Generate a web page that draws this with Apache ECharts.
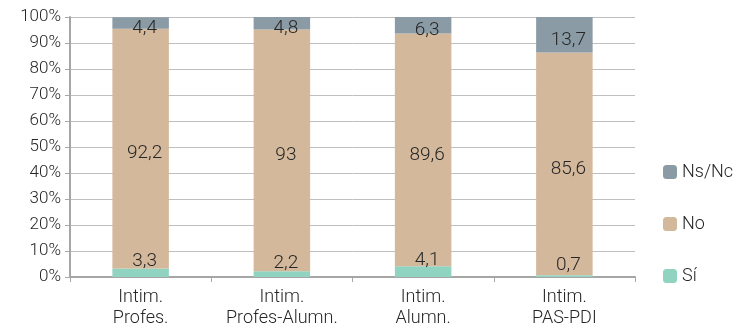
<!DOCTYPE html>
<html>
<head>
<meta charset="utf-8">
<script src="https://cdn.jsdelivr.net/npm/echarts@6/dist/echarts.min.js"></script>
<style>
  html, body { margin: 0; padding: 0; background: #fff; }
  #chart { width: 739px; height: 332px; }
</style>
</head>
<body>
<div id="chart"></div>
<script>
// datos
const categorias = ["Intim.\nProfes.", "Intim.\nProfes-Alumn.", "Intim.\nAlumn.", "Intim.\nPAS-PDI"];
const si = [3.3, 2.2, 4.1, 0.7];
const no = [92.2, 93, 89.6, 85.6];
const nsnc = [4.4, 4.8, 6.3, 13.7];
const ticksY = [0, 10, 20, 30, 40, 50, 60, 70, 80, 90, 100];

const fuente = "Roboto";
const coma = (v) => String(v).replace(".", ",");

const myChart = echarts.init(document.getElementById("chart"));

function etiqueta(offset) {
  return {
    show: true,
    position: "inside",
    offset: offset,
    color: "#262626",
    fontFamily: fuente,
    fontWeight: 300,
    fontSize: 19,
    formatter: (p) => coma(p.value),
  };
}

myChart.setOption({
  animation: false,
  textStyle: { fontFamily: fuente },
  grid: { left: 70, right: 104, top: 17, bottom: 55 },
  legend: {
    orient: "vertical",
    left: 658,
    top: 158,
    itemWidth: 14,
    itemHeight: 14,
    itemGap: 34,
    data: ["Ns/Nc", "No", "Sí"],
    textStyle: { fontSize: 18, fontWeight: 300, color: "#262626", fontFamily: fuente },
  },
  xAxis: {
    type: "category",
    data: categorias,
    axisLine: { lineStyle: { color: "#a6a6a6", width: 2 } },
    axisTick: { show: true, length: 5, lineStyle: { color: "#a6a6a6" } },
    axisLabel: {
      interval: 0,
      color: "#262626",
      fontSize: 18,
      fontWeight: 300,
      lineHeight: 21,
      margin: 10,
      fontFamily: fuente,
    },
  },
  yAxis: {
    type: "value",
    min: 0,
    max: 100,
    interval: 10,
    axisLine: { show: true, lineStyle: { color: "#a6a6a6", width: 2 } },
    axisTick: { show: true, length: 5, lineStyle: { color: "#a6a6a6" } },
    splitLine: { lineStyle: { color: "#bfbfbf" } },
    axisLabel: {
      color: "#262626",
      fontSize: 17,
      fontWeight: 300,
      margin: 9,
      fontFamily: fuente,
      formatter: (v) => (ticksY.includes(v) ? v + "%" : ""),
    },
  },
  series: [
    {
      name: "Sí",
      type: "bar",
      stack: "total",
      barWidth: "40%",
      itemStyle: { color: "#8fd3c0" },
      label: etiqueta([4, -11]),
      data: si,
    },
    {
      name: "No",
      type: "bar",
      stack: "total",
      itemStyle: { color: "#d3b89b" },
      label: etiqueta([4, 5]),
      data: no,
    },
    {
      name: "Ns/Nc",
      type: "bar",
      stack: "total",
      itemStyle: { color: "#8a9ba6" },
      label: etiqueta([4, 5]),
      data: nsnc,
    },
  ],
});
</script>
</body>
</html>
